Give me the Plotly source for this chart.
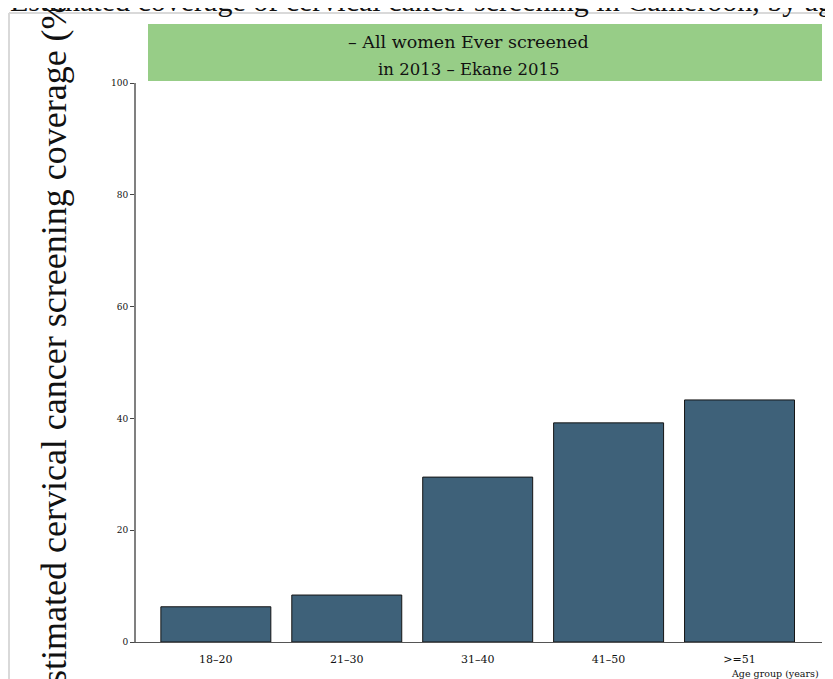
import plotly.graph_objects as go

# Data
age_groups = ["18–20", "21–30", "31–40", "41–50", ">=51"]
coverage = [6.3, 8.4, 29.5, 39.2, 43.3]
y_ticks = [0, 20, 40, 60, 80, 100]

title_text = "Estimated coverage of cervical cancer screening in Cameroon, by age group"
y_title = "Estimated cervical cancer screening coverage (%)"
x_title = "Age group (years)"
box_line1 = "– All women Ever screened"
box_line2 = "in 2013 – Ekane 2015"

W, H = 833, 679
OFF = 8  # page body margin
# plot area in page pixels: x 136..822, y 83..642
L = 136 - OFF
T = 83 - OFF
R = W - (822 - OFF)
B = H - (642 - OFF)
pw, ph = W - L - R, H - T - B


def px(x):
    """page pixel x -> paper coordinate"""
    return (x - OFF - L) / pw


def py(y):
    """page pixel y -> paper coordinate"""
    return (H - B - (y - OFF)) / ph


fig = go.Figure()
fig.add_trace(go.Bar(
    x=list(range(len(age_groups))), y=coverage, width=0.84,
    marker=dict(color="#3e6179", line=dict(color="#151515", width=1)),
    showlegend=False,
))

serif = "Liberation Serif"
cent = "DejaVu Serif"

fig.update_layout(
    width=W, height=H,
    margin=dict(l=L, r=R, t=T, b=B, pad=0),
    paper_bgcolor="white", plot_bgcolor="white",
    xaxis=dict(
        range=[-0.61, 4.63], tickvals=list(range(len(age_groups))), ticktext=age_groups,
        showline=True, linecolor="#555555", linewidth=1, ticks="", showgrid=False,
        zeroline=False, tickfont=dict(family=cent, size=11, color="#111"),
        ticklabelstandoff=7,
    ),
    yaxis=dict(
        range=[0, 100], tickvals=y_ticks, showline=True, linecolor="#808080", linewidth=2,
        ticks="outside", ticklen=4, tickcolor="#444", tickwidth=1, showgrid=False,
        zeroline=False, tickfont=dict(family=cent, size=9, color="#111"),
    ),
    shapes=[
        dict(type="rect", xref="paper", yref="paper", x0=px(148), x1=px(822),
             y0=py(81), y1=py(24), fillcolor="#97cd87", line=dict(width=0), layer="below"),
        dict(type="line", xref="paper", yref="paper", x0=px(9), x1=px(860),
             y0=py(13), y1=py(13), line=dict(color="#d9d9d9", width=2)),
        dict(type="line", xref="paper", yref="paper", x0=px(9), x1=px(9),
             y0=py(13), y1=py(700), line=dict(color="#d9d9d9", width=2)),
    ],
    annotations=[
        dict(text=title_text, xref="paper", yref="paper", x=px(8), y=py(0),
             xanchor="left", yanchor="middle", showarrow=False,
             font=dict(family=serif, size=30, color="#111")),
        dict(text=y_title, xref="paper", yref="paper", x=px(54), y=py(347),
             xanchor="center", yanchor="middle", textangle=-90, showarrow=False,
             font=dict(family=serif, size=36, color="#111")),
        dict(text=box_line1, xref="paper", yref="paper", x=px(468.5), y=py(42),
             xanchor="center", yanchor="middle", showarrow=False,
             font=dict(family=cent, size=17.5, color="#111")),
        dict(text=box_line2, xref="paper", yref="paper", x=px(468.5), y=py(69),
             xanchor="center", yanchor="middle", showarrow=False,
             font=dict(family=cent, size=16.5, color="#111")),
        dict(text=x_title, xref="paper", yref="paper", x=px(821), y=py(673),
             xanchor="right", yanchor="middle", showarrow=False,
             font=dict(family=cent, size=9.5, color="#111")),
    ],
)

fig.write_html("out.html")
